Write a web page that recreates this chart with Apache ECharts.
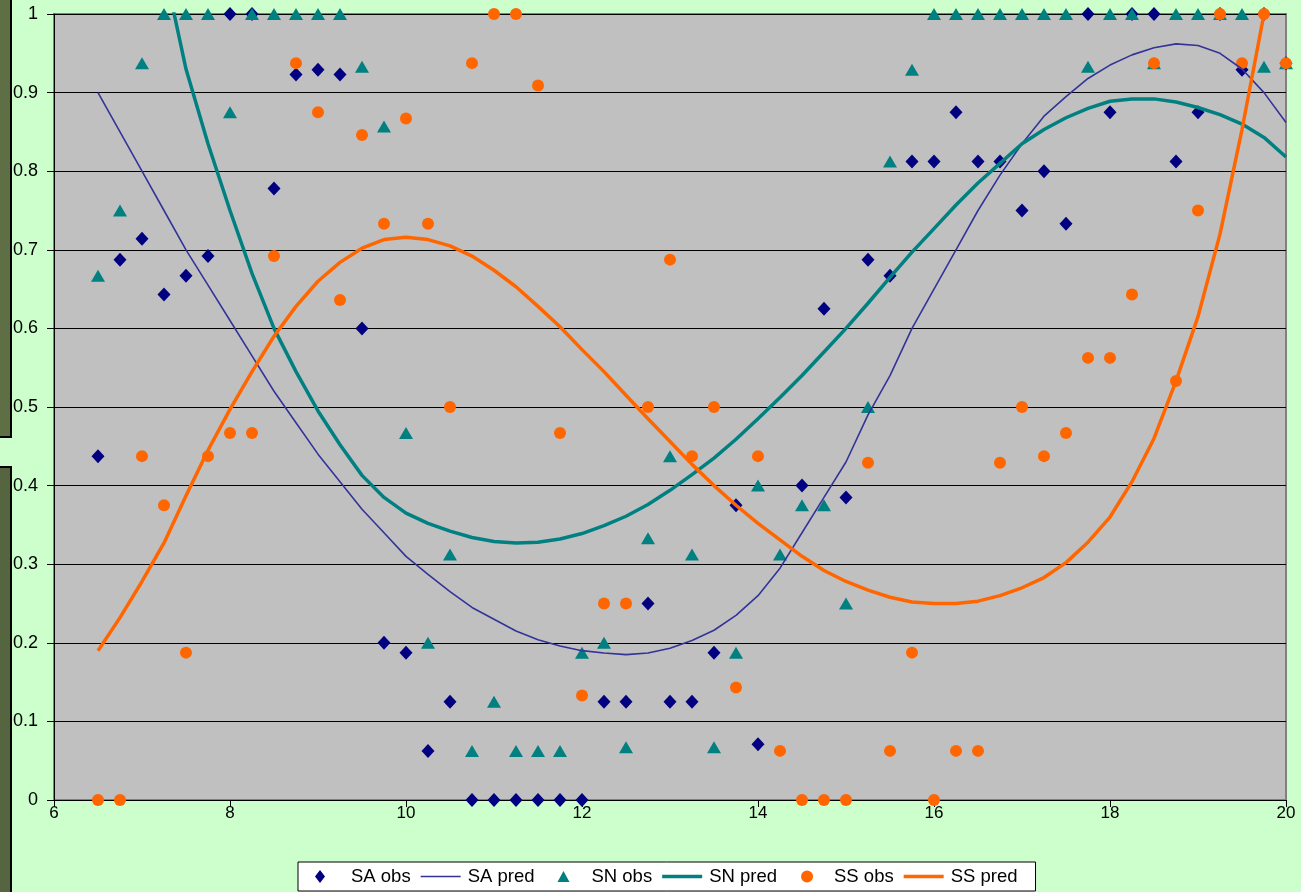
<!DOCTYPE html>
<html>
<head>
<meta charset="utf-8">
<script src="https://cdn.jsdelivr.net/npm/echarts@6/dist/echarts.min.js"></script>
<style>
  html, body { margin: 0; padding: 0; background: #ccffcc; }
  #chart { width: 1301px; height: 892px; }
</style>
</head>
<body>
<div id="chart"></div>
<script>
// x positions shared by all series (hours)
const xs = [6.5, 6.75, 7, 7.25, 7.5, 7.75, 8, 8.25, 8.5, 8.75, 9, 9.25, 9.5, 9.75,
  10, 10.25, 10.5, 10.75, 11, 11.25, 11.5, 11.75, 12, 12.25, 12.5, 12.75, 13, 13.25,
  13.5, 13.75, 14, 14.25, 14.5, 14.75, 15, 15.25, 15.5, 15.75, 16, 16.25, 16.5, 16.75,
  17, 17.25, 17.5, 17.75, 18, 18.25, 18.5, 18.75, 19, 19.25, 19.5, 19.75, 20];

const saObs = [0.4375, 0.6875, 0.714, 0.643, 0.667, 0.692, 1, 1, 0.778, 0.923, 0.929, 0.923, 0.6, 0.2,
  0.1875, 0.0625, 0.125, 0, 0, 0, 0, 0, 0, 0.125, 0.125, 0.25, 0.125, 0.125,
  0.1875, 0.375, 0.071, null, 0.4, 0.625, 0.385, 0.6875, 0.667, 0.8125, 0.8125, 0.875, 0.8125, 0.8125,
  0.75, 0.8, 0.733, 1, 0.875, 1, 1, 0.8125, 0.875, 1, 0.929, 1, 0.9375];

const saPred = [0.9, 0.85, 0.8, 0.75, 0.7, 0.655, 0.61, 0.565, 0.52, 0.48, 0.44, 0.405, 0.37, 0.34,
  0.31, 0.287, 0.265, 0.245, 0.23, 0.215, 0.204, 0.196, 0.19, 0.187, 0.185, 0.187, 0.193, 0.203,
  0.216, 0.235, 0.26, 0.295, 0.34, 0.385, 0.43, 0.49, 0.54, 0.6, 0.65, 0.7, 0.75, 0.795,
  0.835, 0.87, 0.895, 0.918, 0.935, 0.948, 0.957, 0.962, 0.96, 0.95, 0.93, 0.9, 0.862];

const snObs = [0.667, 0.75, 0.9375, 1, 1, 1, 0.875, 1, 1, 1, 1, 1, 0.933, 0.857,
  0.467, 0.2, 0.3125, 0.0625, 0.125, 0.0625, 0.0625, 0.0625, 0.1875, 0.2, 0.067, 0.333, 0.4375, 0.3125,
  0.067, 0.1875, 0.4, 0.3125, 0.375, 0.375, 0.25, 0.5, 0.8125, 0.929, 1, 1, 1, 1,
  1, 1, 1, 0.933, 1, 1, 0.9375, 1, 1, 1, 1, 0.933, 0.9375];

const snPred = [null, null, null, 1.06, 0.93, 0.835, 0.75, 0.67, 0.6, 0.545, 0.495, 0.452, 0.413, 0.385,
  0.365, 0.352, 0.342, 0.334, 0.329, 0.327, 0.328, 0.332, 0.339, 0.349, 0.361, 0.376, 0.394, 0.414,
  0.435, 0.459, 0.485, 0.512, 0.54, 0.57, 0.6, 0.632, 0.665, 0.697, 0.727, 0.757, 0.785, 0.81,
  0.835, 0.853, 0.868, 0.88, 0.889, 0.892, 0.892, 0.888, 0.881, 0.872, 0.86, 0.843, 0.818];

const ssObs = [0, 0, 0.4375, 0.375, 0.1875, 0.4375, 0.467, 0.467, 0.692, 0.9375, 0.875, 0.636, 0.846, 0.733,
  0.867, 0.733, 0.5, 0.9375, 1, 1, 0.909, 0.467, 0.133, 0.25, 0.25, 0.5, 0.6875, 0.4375,
  0.5, 0.143, 0.4375, 0.0625, 0, 0, 0, 0.429, 0.0625, 0.1875, 0, 0.0625, 0.0625, 0.429,
  0.5, 0.4375, 0.467, 0.5625, 0.5625, 0.643, 0.9375, 0.533, 0.75, 1, 0.9375, 1, 0.9375];

const ssPred = [0.19, 0.232, 0.278, 0.327, 0.387, 0.445, 0.497, 0.545, 0.59, 0.628, 0.66, 0.684, 0.702, 0.713,
  0.716, 0.713, 0.705, 0.692, 0.674, 0.653, 0.628, 0.602, 0.573, 0.545, 0.515, 0.485, 0.456, 0.427,
  0.4, 0.375, 0.352, 0.331, 0.31, 0.292, 0.278, 0.267, 0.258, 0.252, 0.25, 0.25, 0.253, 0.26,
  0.27, 0.283, 0.302, 0.328, 0.36, 0.405, 0.46, 0.533, 0.615, 0.72, 0.853, 1.0, 1.2];

const xTicks = { min: 6, max: 20, step: 2 };
const yTicks = { min: 0, max: 1, step: 0.1 };

function pairs(vals) {
  return xs.map((x, i) => [x, vals[i]]).filter(p => p[1] !== null);
}

const chart = echarts.init(document.getElementById("chart"));
const font = "Liberation Sans, Arial, sans-serif";

// legend icons: every path spans the full 48px icon box (tiny dots at both ends)
// so the marks land where the reference has them
const ends = "M0,6.5h0.01v0.01h-0.01Z M47.99,6.5h0.01v0.01h-0.01Z ";
const icons = {
  diamond: "path://" + ends + "M22,0L27,6.5L22,13L17,6.5Z",
  triangle: "path://" + ends + "M25,1L31,12L19,12Z",
  circle: "path://" + ends + "M26,0.5A6,6,0,1,1,25.99,0.5Z",
  thin: "path://" + ends + "M6,5.75H46V7.25H6Z",
  thick: "path://" + ends + "M6,4.75H46V8.25H6Z"
};

chart.setOption({
  backgroundColor: "#ccffcc",
  animation: false,
  textStyle: { fontFamily: font },
  graphic: [
    { type: "rect", shape: { x: -2, y: -2, width: 13, height: 439 },
      style: { fill: "#5f6f45", stroke: "#000", lineWidth: 2 } },
    { type: "rect", shape: { x: -2, y: 467, width: 13, height: 430 },
      style: { fill: "#55653f", stroke: "#000", lineWidth: 2 } }
  ],
  grid: {
    left: 54, top: 14, right: 15, bottom: 92,
    show: true,
    backgroundColor: "#c0c0c0",
    borderColor: "#808080",
    borderWidth: 2
  },
  legend: {
    left: 298, bottom: 1,
    padding: [5, 18, 5, 0],
    itemGap: 4,
    itemWidth: 48,
    itemHeight: 13,
    symbolKeepAspect: true,
    backgroundColor: "#fff",
    borderColor: "#000",
    borderWidth: 1,
    borderRadius: 0,
    textStyle: { fontFamily: font, fontSize: 18.5, color: "#000" },
    data: [
      { name: "SA obs", icon: icons.diamond },
      { name: "SA pred", icon: icons.thin },
      { name: "SN obs", icon: icons.triangle },
      { name: "SN pred", icon: icons.thick },
      { name: "SS obs", icon: icons.circle },
      { name: "SS pred", icon: icons.thick }
    ]
  },
  xAxis: {
    type: "value",
    min: xTicks.min, max: xTicks.max, interval: xTicks.step,
    axisLine: { onZero: false, lineStyle: { color: "#000", width: 1 } },
    axisTick: { show: true, length: 7, lineStyle: { color: "#000" } },
    axisLabel: { color: "#000", fontSize: 17, margin: 5, fontFamily: font },
    splitLine: { show: false }
  },
  yAxis: {
    type: "value",
    min: yTicks.min, max: yTicks.max, interval: yTicks.step,
    axisLine: { show: true, lineStyle: { color: "#000", width: 1 } },
    axisTick: { show: true, length: 7, lineStyle: { color: "#000" } },
    axisLabel: { color: "#000", fontSize: 18, margin: 16, fontFamily: font },
    splitLine: { show: true, lineStyle: { color: "#000", width: 1 } }
  },
  series: [
    {
      name: "SA obs", type: "scatter", clip: false,
      symbol: "diamond", symbolSize: [13, 14],
      itemStyle: { color: "#000080", opacity: 1 },
      data: pairs(saObs)
    },
    {
      name: "SA pred", type: "line", symbol: "none", smooth: false,
      lineStyle: { color: "#333399", width: 1.6 },
      itemStyle: { color: "#333399" },
      data: pairs(saPred)
    },
    {
      name: "SN obs", type: "scatter", clip: false,
      symbol: "triangle", symbolSize: [14, 12],
      itemStyle: { color: "#008080", opacity: 1 },
      data: pairs(snObs)
    },
    {
      name: "SN pred", type: "line", symbol: "none", smooth: false,
      lineStyle: { color: "#008080", width: 3.5 },
      itemStyle: { color: "#008080" },
      data: pairs(snPred)
    },
    {
      name: "SS obs", type: "scatter", clip: false,
      symbol: "circle", symbolSize: 12,
      itemStyle: { color: "#ff6600", opacity: 1 },
      data: pairs(ssObs)
    },
    {
      name: "SS pred", type: "line", symbol: "none", smooth: false,
      lineStyle: { color: "#ff6600", width: 3.5 },
      itemStyle: { color: "#ff6600" },
      data: pairs(ssPred)
    }
  ]
});
</script>
</body>
</html>
